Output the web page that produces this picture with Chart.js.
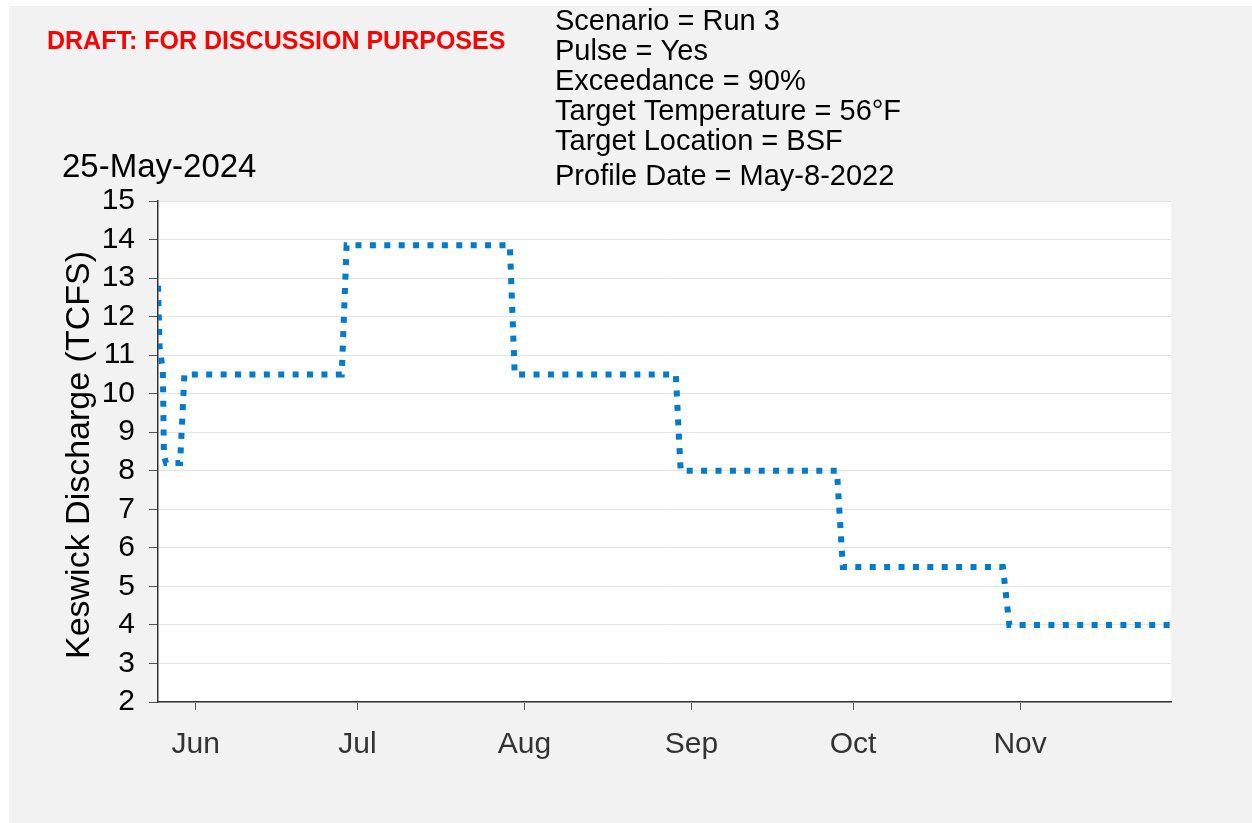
<!DOCTYPE html>
<html>
<head>
<meta charset="utf-8">
<script src="https://cdn.jsdelivr.net/npm/chart.js@4.4.1/dist/chart.umd.min.js"></script>
<style>
  html, body { margin: 0; padding: 0; background: #fff; }
  #wrap { width: 1252px; height: 823px; }
</style>
</head>
<body>
<div id="wrap"><canvas id="chart" width="1252" height="823"></canvas></div>
<script>
// days counted from 25-May-2024
const dayOffsets = [0, 0.3, 0.6, 0.9, 1.1, 1.5, 4.1, 4.9, 34.1, 35, 65.3, 66.2, 96.1, 97, 126, 127.1, 156.8, 158, 188];
const dischargeTcfs = [12.8, 11.2, 10.9, 10.6, 8.4, 8.2, 8.2, 10.5, 10.5, 13.85, 13.85, 10.5, 10.5, 8.0, 8.0, 5.5, 5.5, 4.0, 4.0];

const monthTickDays = [7, 37, 68, 99, 129, 160];
const monthLabels = ["Jun", "Jul", "Aug", "Sep", "Oct", "Nov"];

const infoLines = [
  "Scenario = Run 3",
  "Pulse = Yes",
  "Exceedance = 90%",
  "Target Temperature = 56°F",
  "Target Location = BSF",
  "Profile Date = May-8-2022"
];
const infoBaselines = [30, 60, 90, 120, 150, 185];

const FONT = "'Liberation Sans', Arial, Helvetica, sans-serif";

const points = dayOffsets.map((d, i) => ({ x: d, y: dischargeTcfs[i] }));

const backdrop = {
  id: "backdrop",
  beforeDraw(chart) {
    const { ctx, chartArea: a } = chart;
    ctx.save();
    ctx.fillStyle = "#fff";
    ctx.fillRect(0, 0, chart.width, chart.height);
    ctx.fillStyle = "#f2f2f2";
    ctx.fillRect(9, 6, chart.width - 9, chart.height - 6);
    ctx.fillStyle = "#fff";
    ctx.fillRect(a.left, a.top, a.right - a.left, a.bottom - a.top);
    ctx.restore();
  }
};

const texts = {
  id: "texts",
  afterDraw(chart) {
    const ctx = chart.ctx;
    ctx.save();
    ctx.textBaseline = "alphabetic";
    ctx.textAlign = "left";

    ctx.fillStyle = "#ff0000";
    ctx.font = "bold 25px " + FONT;
    ctx.fillText("DRAFT: FOR DISCUSSION PURPOSES", 47, 49);

    ctx.fillStyle = "#000";
    ctx.font = "29px " + FONT;
    infoLines.forEach((t, i) => ctx.fillText(t, 555, infoBaselines[i]));

    ctx.font = "33px " + FONT;
    ctx.fillText("25-May-2024", 62, 177);

    // y axis title
    ctx.translate(80, 455);
    ctx.rotate(-Math.PI / 2);
    ctx.textAlign = "center";
    ctx.textBaseline = "middle";
    ctx.font = "34px " + FONT;
    ctx.fillText("Keswick Discharge (TCFS)", 0, 0);
    ctx.restore();
  }
};

new Chart(document.getElementById("chart"), {
  type: "line",
  data: {
    datasets: [{
      data: points,
      borderColor: "#007acc",
      borderWidth: 6,
      borderDash: [6, 8.4],
      borderCapStyle: "butt",
      pointRadius: 0,
      tension: 0,
      fill: false
    }]
  },
  options: {
    responsive: false,
    animation: false,
    devicePixelRatio: 1,
    layout: { padding: { top: 201, right: 81, bottom: 0, left: 0 } },
    plugins: { legend: { display: false }, tooltip: { enabled: false } },
    scales: {
      x: {
        type: "linear",
        min: 0,
        max: 188,
        afterBuildTicks: scale => {
          scale.ticks = monthTickDays.map(v => ({ value: v }));
        },
        afterFit: scale => { scale.height = 121; },
        ticks: {
          autoSkip: false,
          maxRotation: 0,
          padding: 17,
          color: "#333",
          font: { family: FONT, size: 30 },
          callback: (v, i) => monthLabels[i]
        },
        grid: { drawOnChartArea: false, tickLength: 8, tickColor: "#555" },
        border: { color: "#333", width: 1.5 }
      },
      y: {
        min: 2,
        max: 15,
        afterFit: scale => { scale.width = 158; },
        ticks: {
          stepSize: 1,
          autoSkip: false,
          padding: 14,
          color: "#000",
          font: { family: FONT, size: 30 }
        },
        grid: { color: "#e4e4e4", tickLength: 9, tickColor: "#555" },
        border: { color: "#333", width: 1.5 }
      }
    }
  },
  plugins: [backdrop, texts]
});
</script>
</body>
</html>
